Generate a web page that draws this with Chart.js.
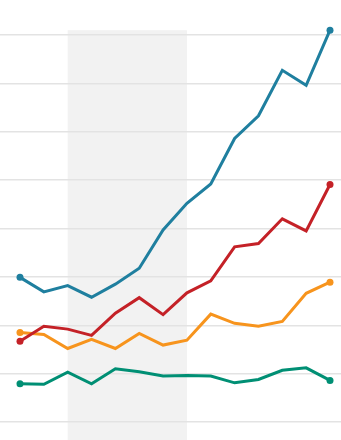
<!DOCTYPE html>
<html>
<head>
<meta charset="utf-8">
<script src="https://cdn.jsdelivr.net/npm/chart.js@4/dist/chart.umd.min.js"></script>
<style>
  html, body { margin: 0; padding: 0; background: #fff; }
  #wrap { width: 341px; height: 440px; }
</style>
</head>
<body>
<div id="wrap"><canvas id="myChart" width="341" height="440"></canvas></div>
<script>
  // periods along the x axis
  const periods = [0, 1, 2, 3, 4, 5, 6, 7, 8, 9, 10, 11, 12, 13];
  const gridTicks = [0, 1, 2, 3, 4, 5, 6, 7, 8];
  const shadeFrom = 2, shadeTo = 7, shadeTop = 8.1;

  const blueVals   = [2.99, 2.69, 2.82, 2.58, 2.85, 3.18, 3.97, 4.52, 4.92, 5.86, 6.33, 7.27, 6.96, 8.10];
  const redVals    = [1.67, 1.98, 1.92, 1.79, 2.25, 2.57, 2.22, 2.67, 2.92, 3.62, 3.69, 4.20, 3.95, 4.91];
  const orangeVals = [1.85, 1.81, 1.52, 1.71, 1.52, 1.83, 1.59, 1.69, 2.23, 2.04, 1.98, 2.08, 2.66, 2.89];
  const greenVals  = [0.79, 0.78, 1.03, 0.79, 1.10, 1.04, 0.95, 0.96, 0.95, 0.81, 0.88, 1.07, 1.12, 0.86];

  function toPoints(vals) {
    return vals.map((v, i) => ({ x: periods[i], y: v }));
  }

  function endDots(ctx) {
    return (ctx.dataIndex === 0 || ctx.dataIndex === periods.length - 1) ? 3.5 : 0;
  }

  function line(vals, color) {
    return {
      data: toPoints(vals),
      borderColor: color,
      backgroundColor: color,
      borderWidth: 3,
      pointRadius: endDots,
      pointBorderWidth: 0,
      tension: 0,
      clip: false
    };
  }

  // grey band behind the grid
  const shade = {
    id: 'shade',
    beforeDraw(chart) {
      const c = chart.ctx, xs = chart.scales.x, ys = chart.scales.y;
      const x0 = xs.getPixelForValue(shadeFrom), x1 = xs.getPixelForValue(shadeTo);
      const y0 = ys.getPixelForValue(shadeTop);
      c.save();
      c.fillStyle = '#f2f2f2';
      c.fillRect(x0, y0, x1 - x0, chart.chartArea.bottom - y0);
      c.restore();
    }
  };

  let ctx = document.getElementById('myChart').getContext('2d');
  new Chart(ctx, {
    type: 'line',
    data: {
      datasets: [
        line(blueVals, '#1f7f9f'),
        line(redVals, '#c42127'),
        line(orangeVals, '#f7941d'),
        line(greenVals, '#008f74')
      ]
    },
    options: {
      responsive: false,
      animation: false,
      layout: { padding: 0, autoPadding: false },
      plugins: { legend: { display: false }, tooltip: { enabled: false } },
      scales: {
        x: {
          type: 'linear',
          display: false,
          min: -0.8386,
          max: 13.461
        },
        y: {
          type: 'linear',
          min: -0.372,
          max: 8.7235,
          afterBuildTicks: (scale) => { scale.ticks = gridTicks.map(v => ({ value: v })); },
          ticks: { display: false },
          border: { display: false },
          grid: { color: '#e3e3e3', lineWidth: 1.5, drawTicks: false }
        }
      }
    },
    plugins: [shade]
  });
</script>
</body>
</html>
